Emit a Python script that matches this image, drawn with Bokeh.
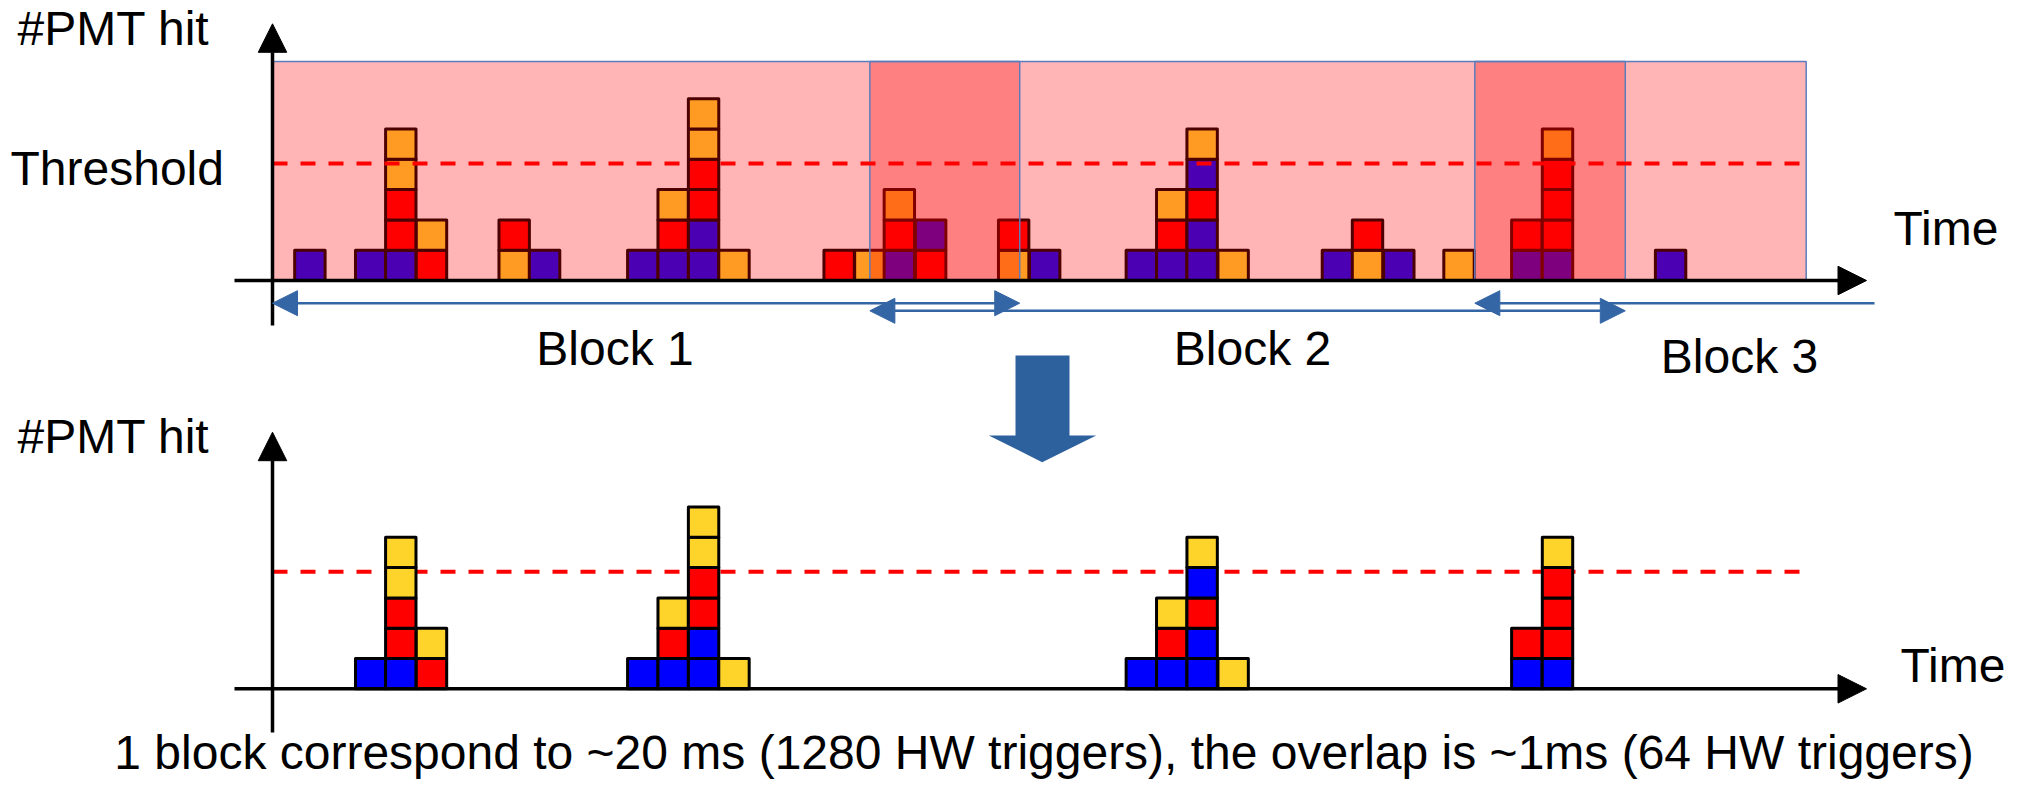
from bokeh.plotting import figure
from bokeh.models import Range1d, Arrow, NormalHead, ColumnDataSource
from bokeh.embed import file_html
from bokeh.resources import INLINE
from bokeh.core.properties import value

# ------------------------------------------------------------------ data
# time bins (in bin-width units) and the PMT hits stacked in each bin (bottom -> top)
top_times = [0.73, 2.73, 3.72, 4.73, 7.45, 8.45, 11.68, 12.68, 13.68, 14.68,
             18.14, 19.15, 20.12, 21.15, 23.88, 24.90, 28.08, 29.08, 30.08, 31.10,
             34.53, 35.52, 36.55, 38.53, 40.76, 41.77, 45.49]
top_hits = ["P", "P", "PRROO", "RO", "OR", "P", "P", "PRO", "PPRROO", "O",
            "R", "O", "PRO", "RP", "OR", "P", "P", "PRO", "PPRPO", "O",
            "P", "OR", "P", "O", "PR", "PRRRO", "P"]

bottom_times = [2.73, 3.72, 4.73, 11.68, 12.68, 13.68, 14.68,
                28.08, 29.08, 30.08, 31.10, 40.76, 41.77]
bottom_hits = ["B", "BRRYY", "RY", "B", "BRY", "BBRRYY", "Y",
               "B", "BRY", "BBRBY", "Y", "BR", "BRRRY"]

threshold = 3.86
block_start = [0.0, 19.65, 39.55]
block_end = [24.58, 44.50, 50.45]
block_labels = ["Block 1", "Block 2", "Block 3"]
caption = "1 block correspond to ~20 ms (1280 HW triggers), the overlap is ~1ms (64 HW triggers)"

# ------------------------------------------------------------------ layout / style
W, H, ORIGIN = 2004, 779, 0
X0_ABS, CW = 272.0, 30.4          # picture x of time 0, px per bin
TOP_BASE, BOT_BASE, CH = 280.0, 688.3, 30.3   # picture y of baselines, px per hit
WIN_H = 7.23                       # height of the shaded block windows (hit units)
MID = 17.0                         # text baseline -> text middle offset (px)

COLORS = {"P": "#4b00b4", "R": "#ff0000", "O": "#ff9a22",
          "B": "#0000ff", "Y": "#ffd42a"}
FONT = value("Liberation Sans")
FS = "48px"
BLUE = "#3465a4"


def X(px):
    return (px - X0_ABS) / CW


def YT(py):
    return (TOP_BASE - py) / CH


def YB(py):
    return (BOT_BASE - py) / CH


p = figure(width=W, height=H, output_backend="svg", toolbar_location=None,
           x_range=Range1d(X(ORIGIN), X(ORIGIN + W)),
           y_range=Range1d(YT(ORIGIN + H), YT(ORIGIN)),
           min_border=0, x_axis_location=None, y_axis_location=None,
           outline_line_color=None)
p.extra_y_ranges = {"bot": Range1d(YB(ORIGIN + H), YB(ORIGIN))}
p.grid.visible = False


def cells(times, hits):
    d = dict(left=[], right=[], bottom=[], top=[], color=[])
    for t, stack in zip(times, hits):
        for k, c in enumerate(stack):
            d["left"].append(t)
            d["right"].append(t + 1)
            d["bottom"].append(k)
            d["top"].append(k + 1)
            d["color"].append(COLORS[c])
    return ColumnDataSource(d)


# shaded acquisition window (single tint)
p.quad(left=[block_start[0]], right=[block_end[-1]], bottom=[0], top=[WIN_H],
       fill_color="#ff0000", fill_alpha=0.29, line_color=None)

# top panel hits
p.quad(left="left", right="right", bottom="bottom", top="top", source=cells(top_times, top_hits),
       fill_color="color", line_color="#4d0000", line_width=3, line_join="round")

# overlap regions (second tint, drawn over hits)
ov_l = block_start[1:]
ov_r = block_end[:-1]
p.quad(left=ov_l, right=ov_r, bottom=[0] * len(ov_l), top=[WIN_H] * len(ov_l),
       fill_color="#ff0000", fill_alpha=0.29, line_color=None)

# block window outlines
p.quad(left=block_start, right=block_end, bottom=[0] * 3, top=[WIN_H] * 3,
       fill_alpha=0, line_color="#5b7dbd", line_width=1.5)

# thresholds
p.line(x=[block_start[0], block_end[-1]], y=[threshold, threshold],
       line_color="#ff0000", line_width=4, line_dash="15 13")
p.line(x=[block_start[0], block_end[-1]], y=[threshold, threshold],
       line_color="#ff0000", line_width=4, line_dash="15 13", y_range_name="bot")

# bottom panel hits
p.quad(left="left", right="right", bottom="bottom", top="top", source=cells(bottom_times, bottom_hits),
       fill_color="color", line_color="black", line_width=3, line_join="round",
       y_range_name="bot")

# axes with arrow heads
for rng in ("default", "bot"):
    p.add_layout(Arrow(end=NormalHead(size=28.5, fill_color="black", line_color="black", line_width=1),
                       x_start=X(234), y_start=0, x_end=X(1866), y_end=0,
                       line_color="black", line_width=3.5, y_range_name=rng))
p.add_layout(Arrow(end=NormalHead(size=28.5, fill_color="black", line_color="black", line_width=1),
                   x_start=0, y_start=YT(325), x_end=0, y_end=YT(23.3),
                   line_color="black", line_width=3.5))
p.add_layout(Arrow(end=NormalHead(size=28.5, fill_color="black", line_color="black", line_width=1),
                   x_start=0, y_start=YB(732), x_end=0, y_end=YB(431.7),
                   line_color="black", line_width=3.5, y_range_name="bot"))

# block extent arrows
arrow_y = [YT(302.7), YT(310.3), YT(302.7)]
for i in range(3):
    last = i == len(block_start) - 1
    p.add_layout(Arrow(start=NormalHead(size=25, fill_color=BLUE, line_color=BLUE, line_width=1),
                       end=None if last else NormalHead(size=25, fill_color=BLUE, line_color=BLUE, line_width=1),
                       x_start=block_start[i], y_start=arrow_y[i],
                       x_end=X(1874) if last else block_end[i], y_end=arrow_y[i],
                       line_color=BLUE, line_width=2.5))

# down arrow between panels
ax = [1015, 1069, 1069, 1095.7, 1041.7, 988.3, 1015]
ay = [355, 355, 435, 435, 461.7, 435, 435]
p.patch(x=[X(v) for v in ax], y=[YB(v) for v in ay], fill_color="#2d619e",
        line_color=None, y_range_name="bot")

# texts (y given as baseline in picture px, drawn centred on the text middle)
p.text(x=[X(17), X(10), X(1893), X(614.5), X(1252), X(1739)],
       y=[YT(b - MID) for b in (45, 185, 245, 364.5, 364.5, 373.3)],
       text=["#PMT hit", "Threshold", "Time"] + block_labels,
       text_align=["left", "left", "left", "center", "center", "center"],
       text_baseline="middle", text_font=FONT, text_font_size=FS, text_color="black")
p.text(x=[X(17), X(1900)], y=[YB(b - MID) for b in (453.3, 681.7)], text=["#PMT hit", "Time"],
       text_align="left", text_baseline="middle", text_font=FONT,
       text_font_size=FS, text_color="black", y_range_name="bot")
p.text(x=[X(1043.5)], y=[YB(769 - MID)], text=[caption], text_align="center",
       text_baseline="middle", text_font=FONT, text_font_size="48px",
       text_color="black", y_range_name="bot")

open("out.html", "w").write(file_html(p, INLINE))
